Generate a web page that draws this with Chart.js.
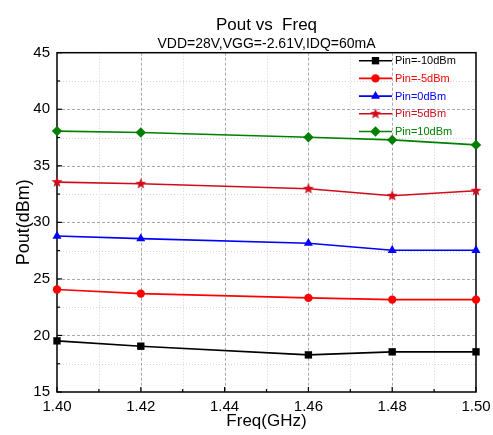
<!DOCTYPE html>
<html>
<head>
<meta charset="utf-8">
<script src="https://cdn.jsdelivr.net/npm/chart.js@4.4.1/dist/chart.umd.min.js"></script>
<style>
  html, body { margin: 0; padding: 0; background: #fff; }
</style>
</head>
<body>
<canvas id="chart" width="493" height="435"></canvas>
<script>
// data
const freqs = [1.40, 1.42, 1.46, 1.48, 1.50];
const pinM10 = [19.52, 19.05, 18.28, 18.55, 18.55];
const pinM5 = [24.06, 23.70, 23.32, 23.17, 23.17];
const pin0 = [28.79, 28.56, 28.15, 27.53, 27.53];
const pin5 = [33.56, 33.41, 32.97, 32.35, 32.79];
const pin10 = [38.07, 37.94, 37.53, 37.29, 36.85];
const seriesLabels = ['Pin=-10dBm', 'Pin=-5dBm', 'Pin=0dBm', 'Pin=5dBm', 'Pin=10dBm'];
const xTickValues = [1.40, 1.42, 1.44, 1.46, 1.48, 1.50];
const yTickValues = [15, 20, 25, 30, 35, 40, 45];

const FONT = 'Arial, "Liberation Sans", sans-serif';

// filled five point star, chart.js "star" is only an asterisk
function starCanvas(color, r) {
  const c = document.createElement('canvas');
  const s = Math.ceil(r * 2 + 2);
  c.width = c.height = s;
  const g = c.getContext('2d');
  g.fillStyle = color;
  g.beginPath();
  for (let i = 0; i < 10; i++) {
    const a = -Math.PI / 2 + i * Math.PI / 5;
    const rr = i % 2 ? r * 0.42 : r;
    const px = s / 2 + Math.cos(a) * rr, py = s / 2 + Math.sin(a) * rr;
    if (i === 0) g.moveTo(px, py); else g.lineTo(px, py);
  }
  g.closePath();
  g.fill();
  return c;
}

const starRed = '#d00c1c';

function series(label, values, color, style, radius) {
  return {
    label: label,
    data: freqs.map((f, i) => ({ x: f, y: values[i] })),
    borderColor: color,
    backgroundColor: color,
    borderWidth: 1.6,
    pointStyle: style,
    pointRadius: radius,
    pointHoverRadius: radius,
    pointBorderWidth: 0,
    tension: 0,
    clip: false
  };
}

const datasets = [
  series(seriesLabels[0], pinM10, '#000000', 'rect', 5.2),
  series(seriesLabels[1], pinM5, '#ff0000', 'circle', 4.2),
  series(seriesLabels[2], pin0, '#0000ff', 'triangle', 5.2),
  series(seriesLabels[3], pin5, starRed, starCanvas(starRed, 5.8), 5),
  series(seriesLabels[4], pin10, '#008000', 'rectRot', 5.2)
];

// grid (dashed major, dotted minor), frame and inward ticks
const frameGrid = {
  id: 'frameGrid',
  beforeDatasetsDraw(chart) {
    const { ctx, chartArea: a, scales: { x, y } } = chart;
    ctx.save();
    const vline = (px, len) => { ctx.beginPath(); ctx.moveTo(px, a.bottom); ctx.lineTo(px, a.bottom - len); ctx.stroke(); };
    const hline = (py, len) => { ctx.beginPath(); ctx.moveTo(a.left, py); ctx.lineTo(a.left + len, py); ctx.stroke(); };
    // minor
    ctx.strokeStyle = '#d4d4d4';
    ctx.lineWidth = 1;
    ctx.setLineDash([1, 2]);
    for (let i = 0; i < xTickValues.length - 1; i++) {
      const px = Math.round(x.getPixelForValue((xTickValues[i] + xTickValues[i + 1]) / 2)) + 0.5;
      ctx.beginPath(); ctx.moveTo(px, a.top); ctx.lineTo(px, a.bottom); ctx.stroke();
    }
    for (let i = 0; i < yTickValues.length - 1; i++) {
      const py = Math.round(y.getPixelForValue((yTickValues[i] + yTickValues[i + 1]) / 2)) + 0.5;
      ctx.beginPath(); ctx.moveTo(a.left, py); ctx.lineTo(a.right, py); ctx.stroke();
    }
    // major
    ctx.strokeStyle = '#a8a8a8';
    ctx.setLineDash([3, 2]);
    xTickValues.slice(1, -1).forEach(v => {
      const px = Math.round(x.getPixelForValue(v)) + 0.5;
      ctx.beginPath(); ctx.moveTo(px, a.top); ctx.lineTo(px, a.bottom); ctx.stroke();
    });
    yTickValues.slice(1, -1).forEach(v => {
      const py = Math.round(y.getPixelForValue(v)) + 0.5;
      ctx.beginPath(); ctx.moveTo(a.left, py); ctx.lineTo(a.right, py); ctx.stroke();
    });
    // ticks
    ctx.setLineDash([]);
    ctx.strokeStyle = '#000';
    ctx.lineWidth = 1.2;
    xTickValues.forEach((v, i) => {
      vline(x.getPixelForValue(v), 5);
      if (i < xTickValues.length - 1) vline(x.getPixelForValue((v + xTickValues[i + 1]) / 2), 3);
    });
    yTickValues.forEach((v, i) => {
      hline(y.getPixelForValue(v), 5);
      if (i < yTickValues.length - 1) hline(y.getPixelForValue((v + yTickValues[i + 1]) / 2), 3);
    });
    // frame
    ctx.lineWidth = 1.5;
    ctx.strokeRect(a.left, a.top, a.right - a.left, a.bottom - a.top);
    ctx.restore();
  }
};

// legend inside the plot, line + marker + coloured text
const insideLegend = {
  id: 'insideLegend',
  afterDatasetsDraw(chart) {
    const { ctx, chartArea: a } = chart;
    const x0 = a.right - 117;
    ctx.save();
    chart.data.datasets.forEach((ds, i) => {
      const yy = a.top + 8 + i * 17.7;
      ctx.strokeStyle = ds.borderColor;
      ctx.lineWidth = 1.6;
      ctx.beginPath(); ctx.moveTo(x0, yy); ctx.lineTo(x0 + 33, yy); ctx.stroke();
      const cx = x0 + 16.5;
      if (ds.pointStyle instanceof HTMLCanvasElement) {
        ctx.drawImage(ds.pointStyle, cx - ds.pointStyle.width / 2, yy - ds.pointStyle.height / 2);
      } else if (Chart.helpers && Chart.helpers.drawPoint) {
        ctx.fillStyle = ds.backgroundColor;
        Chart.helpers.drawPoint(ctx, { pointStyle: ds.pointStyle, radius: ds.pointRadius, rotation: 0, borderWidth: 0 }, cx, yy);
      }
      ctx.fillStyle = ds.borderColor;
      ctx.font = '11px ' + FONT;
      ctx.textBaseline = 'middle';
      ctx.textAlign = 'left';
      ctx.fillText(ds.label, x0 + 36, yy + 0.5);
    });
    ctx.restore();
  }
};

new Chart(document.getElementById('chart'), {
  type: 'line',
  data: { datasets: datasets },
  options: {
    responsive: false,
    animation: false,
    layout: { padding: { left: 0, right: 17, top: 0, bottom: 0 } },
    plugins: {
      legend: { display: false },
      tooltip: { enabled: false },
      title: {
        display: true,
        text: 'Pout vs  Freq',
        fullSize: false,
        color: '#000',
        font: { family: FONT, size: 17, weight: 'normal' },
        padding: { top: 15, bottom: 0 }
      },
      subtitle: {
        display: true,
        text: 'VDD=28V,VGG=-2.61V,IDQ=60mA',
        fullSize: false,
        color: '#000',
        font: { family: FONT, size: 14, weight: 'normal' },
        padding: { top: 0.5, bottom: 0 }
      }
    },
    scales: {
      x: {
        type: 'linear',
        min: 1.40,
        max: 1.50,
        afterBuildTicks: s => { s.ticks = xTickValues.map(v => ({ value: v })); },
        afterFit: s => { s.height = 43; s.paddingLeft = 0; s.paddingRight = 0; },
        grid: { display: false, drawTicks: false },
        border: { display: false },
        ticks: {
          color: '#000',
          font: { family: FONT, size: 15 },
          padding: 6,
          maxRotation: 0,
          callback: v => Number(v).toFixed(2)
        },
        title: {
          display: true,
          text: 'Freq(GHz)',
          color: '#000',
          font: { family: FONT, size: 17 },
          padding: { top: 0, bottom: 3 }
        }
      },
      y: {
        min: 15,
        max: 45,
        afterBuildTicks: s => { s.ticks = yTickValues.map(v => ({ value: v })); },
        afterFit: s => { s.width = 57; },
        grid: { display: false, drawTicks: false },
        border: { display: false },
        ticks: {
          color: '#000',
          font: { family: FONT, size: 15 },
          padding: 7
        },
        title: {
          display: true,
          text: 'Pout(dBm)',
          color: '#000',
          font: { family: FONT, size: 18 },
          padding: { top: 13, bottom: 0 }
        }
      }
    }
  },
  plugins: [frameGrid, insideLegend]
});
</script>
</body>
</html>
